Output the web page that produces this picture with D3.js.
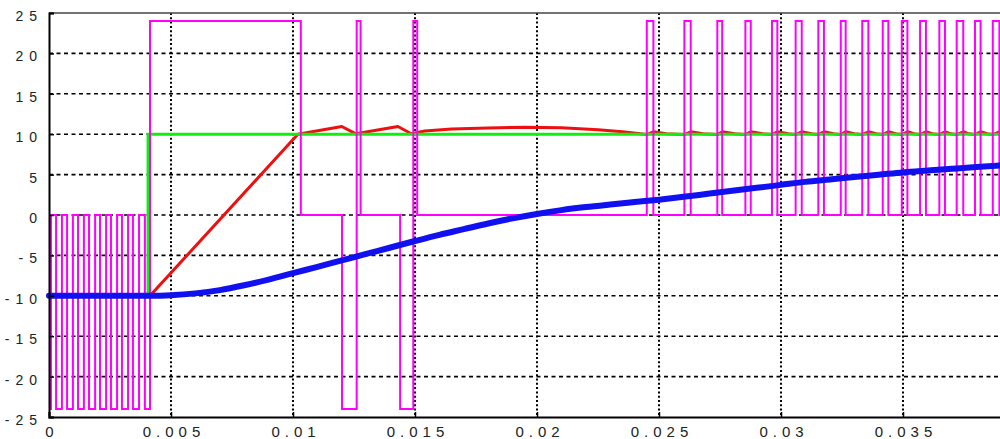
<!DOCTYPE html>
<html>
<head>
<meta charset="utf-8">
<script src="https://cdn.jsdelivr.net/npm/d3@7"></script>
<style>
  body { margin: 0; background: #fff; }
  svg { display: block; }
  .tickLabel { font-family: "Liberation Sans", Arial, sans-serif; fill: #222; }
</style>
</head>
<body>
<div id="chart"><svg></svg></div>
<script>
// x ticks (time in s) and y ticks
const xTicks = [0, 0.005, 0.01, 0.015, 0.02, 0.025, 0.03, 0.035, 0.04];
const xTickLabels = ["0", "0.005", "0.01", "0.015", "0.02", "0.025", "0.03", "0.035", "0.04"];
const yTicks = [-25, -20, -15, -10, -5, 0, 5, 10, 15, 20, 25];

// green: reference step
const greenSeries = [[0, -10], [0.00406, -10], [0.00406, 10], [0.04, 10]];

// red: measured current
const redSeries = [
  [0, -10], [0.00414, -10], [0.01020, 10], [0.01200, 10.95], [0.01258, 10.05],
  [0.01430, 10.95], [0.01485, 10.05], [0.01540, 10.4], [0.01650, 10.65], [0.01800, 10.78],
  [0.01950, 10.85], [0.02100, 10.8], [0.02250, 10.55], [0.02350, 10.3], [0.02450, 9.95],
  [0.02477, 10.3], [0.02530, 10.05], [0.02604, 9.95], [0.02630, 10.3], [0.02680, 10.05],
  [0.02739, 9.95], [0.02759, 10.3], [0.02810, 10.05], [0.02854, 9.95], [0.02876, 10.3],
  [0.02925, 10.05], [0.02963, 9.95], [0.02985, 10.3], [0.03030, 10.05], [0.03060, 9.95],
  [0.03085, 10.3], [0.03125, 10.05], [0.03153, 9.95], [0.03176, 10.3], [0.03215, 10.05],
  [0.03245, 9.95], [0.03265, 10.3], [0.03300, 10.05], [0.03333, 9.95], [0.03358, 10.3],
  [0.03390, 10.05], [0.03417, 9.95], [0.03440, 10.3], [0.03470, 10.05], [0.03495, 9.95],
  [0.03518, 10.3], [0.03545, 10.05], [0.03570, 9.95], [0.03594, 10.3], [0.03620, 10.05],
  [0.03649, 9.95], [0.03672, 10.3], [0.03695, 10.05], [0.03720, 9.95], [0.03747, 10.3],
  [0.03770, 10.05], [0.03795, 9.95], [0.03818, 10.3], [0.03845, 10.05], [0.03868, 9.95],
  [0.03895, 10.3], [0.03925, 10.05], [0.04, 10.0]
];

// blue: speed
const blueTimes = [0, 0.0042, 0.005, 0.006, 0.007, 0.008, 0.009, 0.010, 0.011, 0.012, 0.013,
  0.014, 0.015, 0.016, 0.017, 0.018, 0.019, 0.020, 0.021, 0.022, 0.023, 0.024, 0.025, 0.026,
  0.027, 0.028, 0.029, 0.030, 0.031, 0.032, 0.033, 0.034, 0.035, 0.036, 0.037, 0.038, 0.039, 0.040];
const blueValues = [-10, -10, -9.93, -9.7, -9.3, -8.7, -8.0, -7.2, -6.42, -5.62, -4.82,
  -4.02, -3.22, -2.45, -1.75, -1.05, -0.42, 0.13, 0.6, 0.98, 1.3, 1.6, 1.9, 2.25,
  2.62, 2.99, 3.36, 3.73, 4.1, 4.4, 4.7, 4.98, 5.27, 5.5, 5.72, 5.93, 6.12, 6.3];

// magenta: switching voltage, [time of edge, level after edge]
const magentaSteps = [
  [0, -24], [0.00008, 0], [0.00029, -24], [0.00053, 0], [0.00074, -24], [0.00098, 0],
  [0.00119, -24], [0.00143, 0], [0.00164, -24], [0.00189, 0], [0.00209, -24], [0.00234, 0],
  [0.00254, -24], [0.00279, 0], [0.00299, -24], [0.00324, 0], [0.00344, -24], [0.00369, 0],
  [0.00393, -24], [0.00414, 24], [0.01032, 0], [0.01201, -24], [0.01261, 24], [0.01277, 0],
  [0.01439, -24], [0.01493, 24], [0.01509, 0],
  [0.02450, 24], [0.02477, 0], [0.02604, 24], [0.02630, 0], [0.02739, 24], [0.02759, 0],
  [0.02854, 24], [0.02876, 0], [0.02963, 24], [0.02985, 0], [0.03060, 24], [0.03085, 0],
  [0.03153, 24], [0.03176, 0], [0.03245, 24], [0.03265, 0], [0.03333, 24], [0.03358, 0],
  [0.03417, 24], [0.03440, 0], [0.03495, 24], [0.03518, 0], [0.03570, 24], [0.03594, 0],
  [0.03649, 24], [0.03672, 0], [0.03720, 24], [0.03747, 0], [0.03795, 24], [0.03818, 0],
  [0.03868, 24], [0.03895, 0], [0.04, 0]
];

/***** BASIC SETUP *****/
const width = 1000;
const height = 439;
const margin = {top: 13, left: 49, bottom: 22};
const plotBottom = height - margin.bottom;

const svg = d3.select("#chart").select("svg")
    .attr("width", width)
    .attr("height", height);

/***** SCALES *****/
// the 0.04 end of the axis lies past the right edge of the picture
const xScale = d3.scaleLinear().domain([0, 0.04]).range([margin.left, 1025]);
const yScale = d3.scaleLinear().domain([-25, 25]).range([plotBottom, margin.top]);

/***** GRID *****/
svg.append("g").attr("class", "yGrid")
  .selectAll("line")
  .data(yTicks.filter(d => d > -25 && d < 25))
  .join("line")
    .attr("x1", margin.left)
    .attr("x2", width)
    .attr("y1", d => yScale(d))
    .attr("y2", d => yScale(d))
    .attr("stroke", "#000")
    .attr("stroke-width", 1.6)
    .attr("stroke-dasharray", "4,3.5");

svg.append("g").attr("class", "xGrid")
  .selectAll("line")
  .data(xTicks.filter(d => d > 0))
  .join("line")
    .attr("x1", d => xScale(d))
    .attr("x2", d => xScale(d))
    .attr("y1", margin.top)
    .attr("y2", plotBottom)
    .attr("stroke", "#000")
    .attr("stroke-width", 2)
    .attr("stroke-dasharray", "2,2.3");

/***** SERIES *****/
const line = d3.line()
    .x(d => xScale(d[0]))
    .y(d => yScale(d[1]));

svg.append("path")
    .datum(redSeries)
    .attr("fill", "none")
    .attr("stroke", "#ee1010")
    .attr("stroke-width", 3)
    .attr("stroke-linejoin", "round")
    .attr("d", line);

svg.append("path")
    .datum(greenSeries)
    .attr("fill", "none")
    .attr("stroke", "#10ee10")
    .attr("stroke-width", 3)
    .attr("d", line);

svg.append("path")
    .datum(magentaSteps)
    .attr("fill", "none")
    .attr("stroke", "#ff00ff")
    .attr("stroke-width", 2)
    .attr("d", line.curve(d3.curveStepAfter));

const blueSeries = blueTimes.map((t, i) => [t, blueValues[i]]);
svg.append("path")
    .datum(blueSeries)
    .attr("fill", "none")
    .attr("stroke", "#1010f0")
    .attr("stroke-width", 6)
    .attr("stroke-linecap", "round")
    .attr("d", d3.line()
        .x(d => xScale(d[0]))
        .y(d => yScale(d[1]))
        .curve(d3.curveMonotoneX));

/***** AXES *****/
// top border
svg.append("line")
    .attr("x1", margin.left).attr("x2", width)
    .attr("y1", margin.top).attr("y2", margin.top)
    .attr("stroke", "#444").attr("stroke-width", 1.5);

const xAxis = d3.axisBottom(xScale)
    .tickValues(xTicks)
    .tickSize(-5)
    .tickFormat((d, i) => xTickLabels[i]);

const gx = svg.append("g")
    .attr("transform", "translate(0," + plotBottom + ")")
    .call(xAxis);
gx.select(".domain").attr("stroke", "#000").attr("stroke-width", 2);
gx.selectAll(".tick line").attr("stroke", "#000").attr("stroke-width", 1.5);
gx.selectAll("text")
    .attr("class", "tickLabel")
    .attr("y", 20)
    .attr("dy", 0)
    .attr("dx", 2.5)
    .style("font-size", "15px")
    .style("letter-spacing", "5px");

const yAxis = d3.axisLeft(yScale)
    .tickValues(yTicks)
    .tickSize(-5)
    .tickPadding(0)
    .tickFormat(d => d);

const gy = svg.append("g")
    .attr("transform", "translate(" + margin.left + ",0)")
    .call(yAxis);
gy.select(".domain").attr("stroke", "#000").attr("stroke-width", 2);
gy.selectAll(".tick line").attr("stroke", "#000").attr("stroke-width", 1.5);
gy.selectAll("text")
    .attr("class", "tickLabel")
    .attr("x", -6)
    .attr("dy", 7.5)
    .style("text-anchor", "end")
    .style("font-size", "14px")
    .style("letter-spacing", "6px");
</script>
</body>
</html>
